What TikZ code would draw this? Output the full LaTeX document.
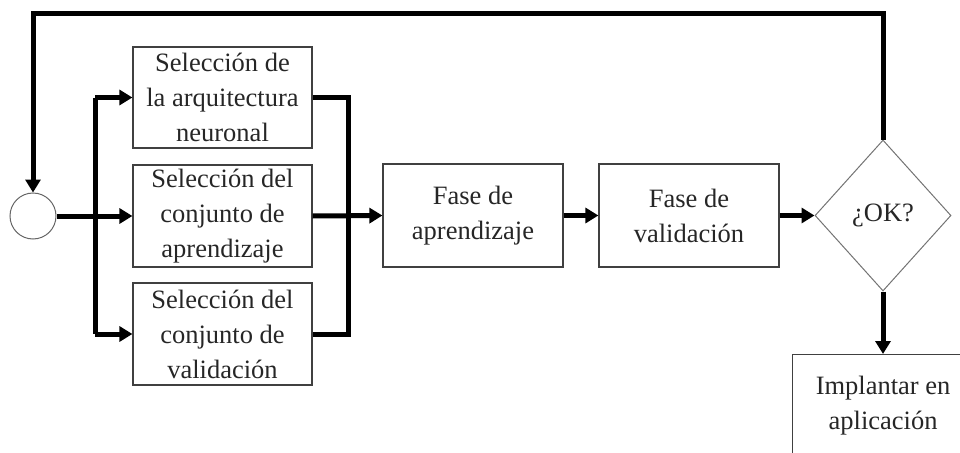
\documentclass[tikz,border=0pt]{standalone}
\usepackage{fontspec}
\setmainfont{Liberation Serif}
\usetikzlibrary{arrows.meta,shapes.geometric}
\tikzset{
  boxnode/.style={draw=black!75, line width=1.2pt, rectangle, inner sep=0pt,
    minimum width=179pt, align=center, text=black!85,
    font=\fontsize{26.5}{35}\selectfont},
  conn/.style={line width=5pt, draw=black},
  arr/.style={conn, -{Triangle[length=13pt,width=15pt]}},
}
\begin{document}
\begin{tikzpicture}[x=1pt,y=-1pt]
\useasboundingbox (0,0) rectangle (960,452);
\clip (0,0) rectangle (960,452);
% nodes
\node[draw=black!60, line width=1pt, circle, minimum size=46pt, inner sep=0pt] (circ) at (33,216) {};
\node[boxnode, minimum height=101pt] (b1) at (222.5,97.5) {Selección de\\la arquitectura\\neuronal};
\node[boxnode, minimum height=102pt] (b2) at (222.5,216) {Selección del\\conjunto de\\aprendizaje};
\node[boxnode, minimum height=102pt] (b3) at (222.5,334) {Selección del\\conjunto de\\validación};
\node[boxnode, minimum width=180pt, minimum height=103pt] (fa) at (473,215.5) {Fase de\\aprendizaje};
\node[boxnode, minimum width=180pt, minimum height=103pt] (fv) at (689,215.5) {Fase de\\validación};
\node[draw=black!55, line width=1pt, diamond, inner sep=0pt, minimum width=136pt, minimum height=151pt,
  text=black!85, font=\fontsize{26.5}{35}\selectfont] (ok) at (883,215.5) {¿OK?};
\node[boxnode, minimum width=181pt, minimum height=103pt, anchor=north west] (imp) at (792,354) {Implantar en\\aplicación};
% coordinates
\coordinate (fbR) at (883,14);
\coordinate (fbL) at (33,14);
\coordinate (sp1) at (95,97.5);
\coordinate (sp2) at (95,216);
\coordinate (sp3) at (95,334);
\coordinate (jn1) at (348,97.5);
\coordinate (jn3) at (348,334);
% connectors
\draw[arr] (ok.north) -- (fbR) -- (fbL) -- (circ.north);
\draw[arr] (circ.east) -- (b2.west);
\draw[conn] (sp1) -- (sp3);
\draw[arr] (sp1) -- (b1.west);
\draw[arr] (sp3) -- (b3.west);
\draw[conn] (b1.east) -- (jn1) -- (jn3) -- (b3.east);
\draw[arr] (b2.east) -- (fa.west);
\draw[arr] (fa.east) -- (fv.west);
\draw[arr] (fv.east) -- (ok.west);
\draw[arr] (ok.south) -- (imp.north -| ok.south);
\end{tikzpicture}
\end{document}
